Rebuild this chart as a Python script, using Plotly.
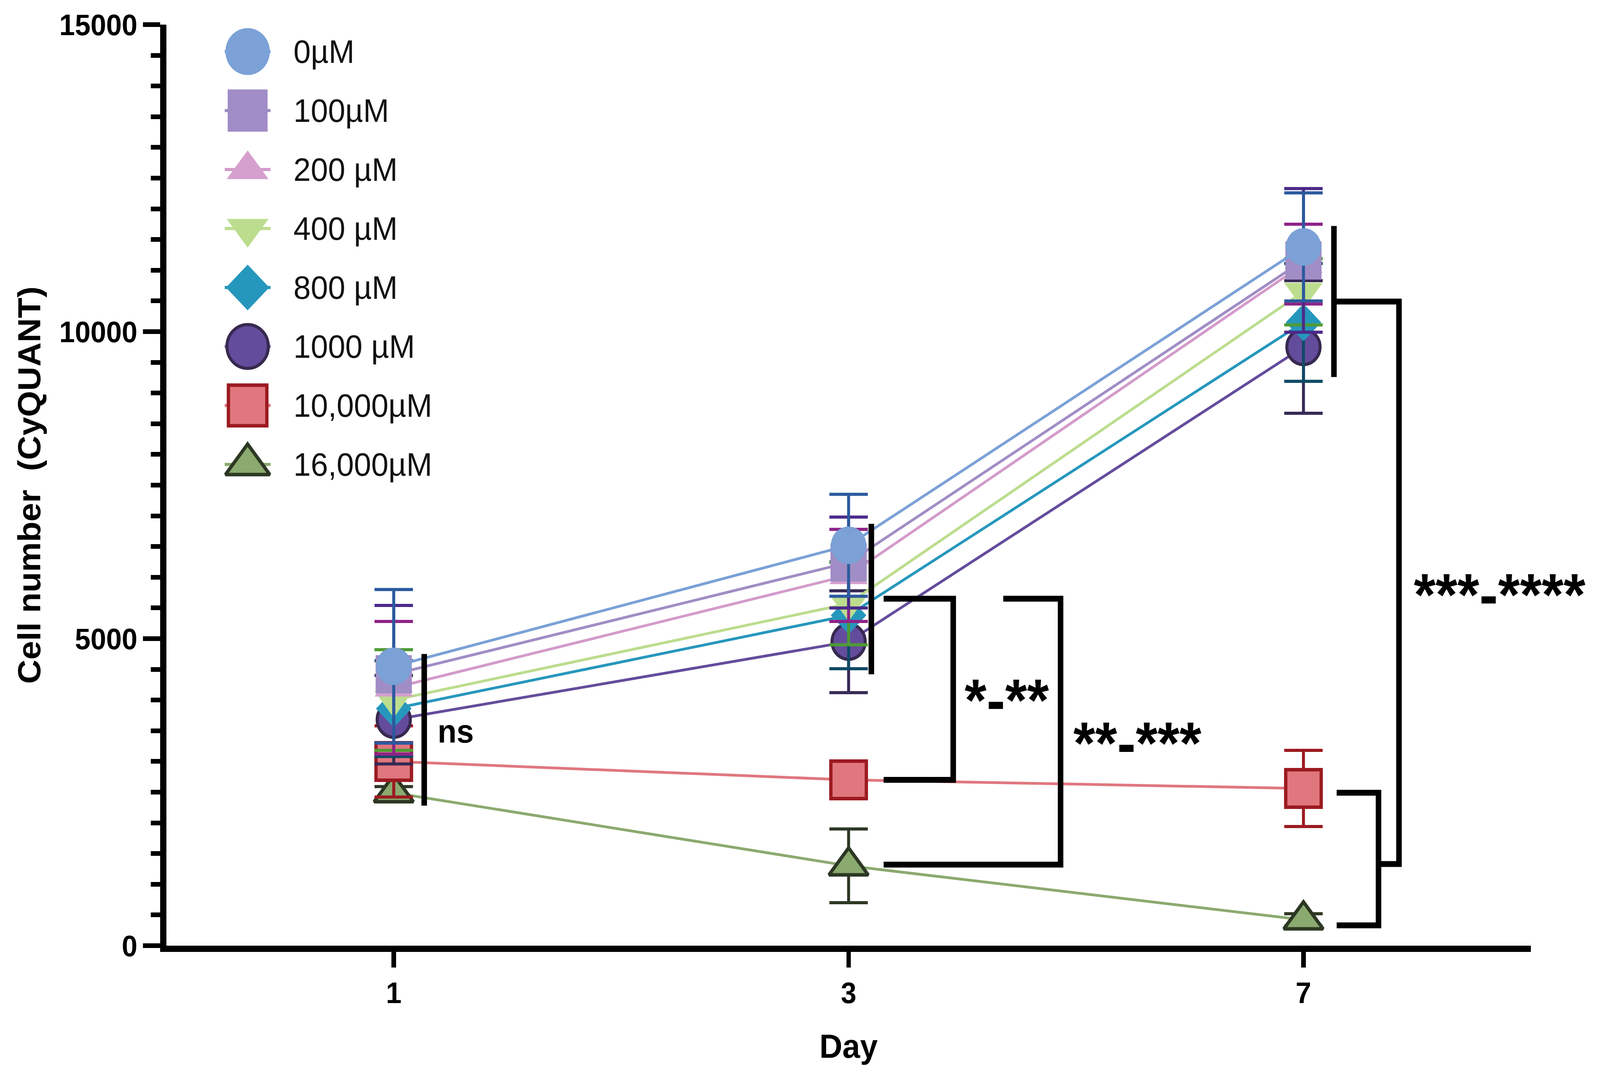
import plotly.graph_objects as go

# ---------------- data ----------------
days = ["1", "3", "7"]
series_names = ["0µM", "100µM", "200 µM", "400 µM", "800 µM", "1000 µM", "10,000µM", "16,000µM"]
y_tick_values = [0, 5000, 10000, 15000]
y_tick_labels = ["0", "5000", "10000", "15000"]

mean_0 = [4550, 6520, 11380]
mean_100 = [4420, 6240, 11160]
mean_200 = [4200, 6030, 11100]
mean_400 = [4000, 5570, 10650]
mean_800 = [3860, 5380, 10150]
mean_1000 = [3680, 4950, 9750]
mean_10000 = [3000, 2700, 2560]
mean_16000 = [2490, 1300, 420]

sd_0 = [1250, 830, 880]
sd_100 = [1120, 740, 1170]
sd_200 = [1080, 750, 650]
sd_400 = [820, 670, 540]
sd_800 = [780, 870, 960]
sd_1000 = [720, 830, 1080]
sd_10000 = [580, 250, 620]
sd_16000 = [100, 600, 100]

means = [mean_0, mean_100, mean_200, mean_400, mean_800, mean_1000, mean_10000, mean_16000]
sds = [sd_0, sd_100, sd_200, sd_400, sd_800, sd_1000, sd_10000, sd_16000]

# ---------------- styles ----------------
fill_colors = ["#7BA1D6", "#A18DC5", "#D5A0CE", "#BCDD8E", "#2697BC", "#644C9C", "#E0777E", "#8BAA6F"]
line_colors = ["#7BA1D6", "#A18DC5", "#D39BCB", "#BCDD8E", "#2697BC", "#644C9C", "#E0777E", "#8BAA6F"]
err_colors = ["#2B5A9E", "#4B2A8A", "#8E2387", "#4F9A37", "#0F4A66", "#372A55", "#9C1A21", "#2D3824"]
outline_colors = ["#7BA1D6", "#A18DC5", "#D5A0CE", "#BCDD8E", "#2697BC", "#37294F", "#9C1A21", "#2D3824"]
outline_widths = [0, 0, 0, 0, 0, 8, 9, 9]
symbols = ["circle", "square", "triangle-up", "triangle-down", "diamond", "circle", "square", "triangle-up"]
plot_sizes = [96, 98, 90, 90, 74, 90, 96, 92]
legend_sizes = [120, 108, 98, 98, 90, 112, 104, 104]

FONT = "Liberation Sans, Arial, Helvetica, sans-serif"

W, H = 4329, 2747
ML, MR, MT, MB = 450, 187, 63, 326

fig = go.Figure()

xpos = list(range(len(days)))

# draw in reverse so that 0µM sits on top
for i in reversed(range(len(series_names))):
    fig.add_trace(go.Scatter(
        x=xpos, y=means[i], name=series_names[i], mode="lines+markers",
        line=dict(color=line_colors[i], width=7),
        marker=dict(symbol=symbols[i], size=plot_sizes[i], color=fill_colors[i],
                    line=dict(color=outline_colors[i], width=outline_widths[i])),
        error_y=dict(type="data", array=sds[i], symmetric=True, color=err_colors[i],
                     thickness=8, width=52),
        cliponaxis=False, showlegend=False,
    ))

# ---------------- manual legend (overlay axis in plot-area fractions) ----------------
plot_w = W - ML - MR
plot_h = H - MT - MB
leg_mx = (670 - ML) / plot_w
leg_half = 62 / plot_w
leg_tx = (792 - ML) / plot_w
leg_y0 = (H - MB - 132) / plot_h
leg_step = 151 / plot_h

for i, name in enumerate(series_names):
    yy = leg_y0 - i * leg_step
    fig.add_trace(go.Scatter(
        x=[leg_mx - leg_half, leg_mx + leg_half], y=[yy, yy], mode="lines",
        line=dict(color=line_colors[i], width=8), xaxis="x2", yaxis="y2",
        showlegend=False, hoverinfo="skip", cliponaxis=False))
    fig.add_trace(go.Scatter(
        x=[leg_mx], y=[yy], mode="markers",
        marker=dict(symbol=symbols[i], size=legend_sizes[i], color=fill_colors[i],
                    line=dict(color=outline_colors[i], width=outline_widths[i])),
        xaxis="x2", yaxis="y2", showlegend=False, hoverinfo="skip", cliponaxis=False))
    fig.add_annotation(x=leg_tx, y=yy, xref="paper", yref="paper", text=name,
                       showarrow=False, xanchor="left", yanchor="middle",
                       font=dict(family=FONT, size=84, color="#111111"))

# ---------------- significance brackets ----------------
BR = dict(color="black", width=15)
bracket_paths = [
    "M 0.067,2280 L 0.067,4750",
    "M 1.05,4420 L 1.05,6870",
    "M 1.077,5650 L 1.23,5650 L 1.23,2700 L 1.077,2700",
    "M 1.34,5650 L 1.466,5650 L 1.466,1320 L 1.077,1320",
    "M 2.067,9260 L 2.067,11720",
    "M 2.067,10490 L 2.21,10490 L 2.21,1330 L 2.166,1330",
    "M 2.073,2490 L 2.165,2490 L 2.165,330 L 2.073,330",
]
for p in bracket_paths:
    fig.add_shape(type="path", path=p, xref="x", yref="y", line=BR, layer="above")

sig_labels = [
    ("ns", 0.095, 3490, "left", 84),
    ("*-**", 1.348, 4000, "center", 152),
    ("**-***", 1.635, 3300, "center", 152),
    ("***-****", 2.431, 5720, "center", 152),
]
for txt, xx, yy, anc, fs in sig_labels:
    fig.add_annotation(x=xx, y=yy, xref="x", yref="y", text=txt, showarrow=False,
                       xanchor=anc, yanchor="middle",
                       font=dict(family=FONT, size=fs, color="black", weight="bold"))

# ---------------- layout ----------------
fig.update_layout(
    width=W, height=H,
    margin=dict(l=ML, r=MR, t=MT, b=MB, autoexpand=False),
    paper_bgcolor="white", plot_bgcolor="white",
    showlegend=False,
    font=dict(family=FONT, color="black"),
    xaxis=dict(
        range=[-0.5, 2.5], tickmode="array", tickvals=xpos, ticktext=days,
        showline=True, linewidth=16, linecolor="black",
        ticks="outside", ticklen=40, tickwidth=12, tickcolor="black",
        showgrid=False, zeroline=False,
        tickfont=dict(family=FONT, size=76, weight="bold"),
        title=dict(text="Day", font=dict(family=FONT, size=86, weight="bold"), standoff=72),
    ),
    yaxis=dict(
        range=[0, 15000], tickmode="array", tickvals=y_tick_values, ticktext=y_tick_labels,
        showline=True, linewidth=17, linecolor="black",
        ticks="outside", ticklen=46, tickwidth=12, tickcolor="black",
        minor=dict(dtick=500, ticks="outside", ticklen=25, tickwidth=12, tickcolor="black"),
        showgrid=False, zeroline=False,
        tickfont=dict(family=FONT, size=76, weight="bold"),
        title=dict(text="Cell number \u00a0(CyQUANT)", font=dict(family=FONT, size=86, weight="bold"), standoff=30),
    ),
    xaxis2=dict(overlaying="x", anchor="y2", range=[0, 1], visible=False, fixedrange=True),
    yaxis2=dict(overlaying="y", anchor="x2", range=[0, 1], visible=False, fixedrange=True),
)

# fit the fixed-size figure to the actual browser viewport (no-op when it is 4329x2747)
fit_script = """
var gd = document.getElementById('{plot_id}');
document.documentElement.style.margin = '0';
document.documentElement.style.overflow = 'hidden';
document.body.style.margin = '0';
document.body.style.overflow = 'hidden';
var sx = window.innerWidth / %d, sy = window.innerHeight / %d;
gd.style.transformOrigin = '0 0';
gd.style.transform = 'scale(' + sx + ',' + sy + ')';
""" % (W, H)

fig.write_html("out.html", post_script=fit_script, config={"displayModeBar": False})
